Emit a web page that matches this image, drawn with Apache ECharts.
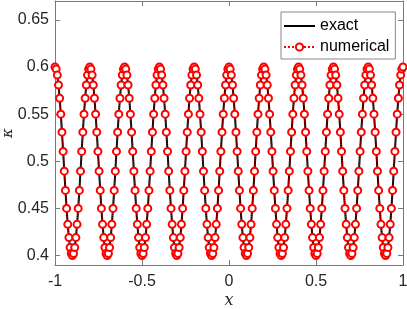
<!DOCTYPE html>
<html>
<head>
<meta charset="utf-8">
<script src="https://cdn.jsdelivr.net/npm/echarts@6/dist/echarts.min.js"></script>
<style>html,body{margin:0;padding:0;background:#fff}#c{width:407px;height:309px}</style>
</head>
<body>
<div id="c"></div>
<script>
// x grid: uniform samples from -1 to 1 (301 points)
const xStart = -1, xEnd = 1, nPts = 301;
// kappa values (numerical points, which lie on the exact curve)
const kappaValues = [
0.6,0.5978,0.5914,0.5809,0.5669,0.55,0.5309,0.5105,0.4895,0.4691,0.45,0.4331,0.4191,0.4086,0.4022,0.4,0.4022,0.4086,0.4191,0.4331,0.45,0.4691,0.4895,0.5105,0.5309,0.55,0.5669,0.5809,0.5914,0.5978,
0.6,0.5978,0.5914,0.5809,0.5669,0.55,0.5309,0.5105,0.4895,0.4691,0.45,0.4331,0.4191,0.4086,0.4022,0.4,0.4022,0.4086,0.4191,0.4331,0.45,0.4691,0.4895,0.5105,0.5309,0.55,0.5669,0.5809,0.5914,0.5978,
0.6,0.5978,0.5914,0.5809,0.5669,0.55,0.5309,0.5105,0.4895,0.4691,0.45,0.4331,0.4191,0.4086,0.4022,0.4,0.4022,0.4086,0.4191,0.4331,0.45,0.4691,0.4895,0.5105,0.5309,0.55,0.5669,0.5809,0.5914,0.5978,
0.6,0.5978,0.5914,0.5809,0.5669,0.55,0.5309,0.5105,0.4895,0.4691,0.45,0.4331,0.4191,0.4086,0.4022,0.4,0.4022,0.4086,0.4191,0.4331,0.45,0.4691,0.4895,0.5105,0.5309,0.55,0.5669,0.5809,0.5914,0.5978,
0.6,0.5978,0.5914,0.5809,0.5669,0.55,0.5309,0.5105,0.4895,0.4691,0.45,0.4331,0.4191,0.4086,0.4022,0.4,0.4022,0.4086,0.4191,0.4331,0.45,0.4691,0.4895,0.5105,0.5309,0.55,0.5669,0.5809,0.5914,0.5978,
0.6,0.5978,0.5914,0.5809,0.5669,0.55,0.5309,0.5105,0.4895,0.4691,0.45,0.4331,0.4191,0.4086,0.4022,0.4,0.4022,0.4086,0.4191,0.4331,0.45,0.4691,0.4895,0.5105,0.5309,0.55,0.5669,0.5809,0.5914,0.5978,
0.6,0.5978,0.5914,0.5809,0.5669,0.55,0.5309,0.5105,0.4895,0.4691,0.45,0.4331,0.4191,0.4086,0.4022,0.4,0.4022,0.4086,0.4191,0.4331,0.45,0.4691,0.4895,0.5105,0.5309,0.55,0.5669,0.5809,0.5914,0.5978,
0.6,0.5978,0.5914,0.5809,0.5669,0.55,0.5309,0.5105,0.4895,0.4691,0.45,0.4331,0.4191,0.4086,0.4022,0.4,0.4022,0.4086,0.4191,0.4331,0.45,0.4691,0.4895,0.5105,0.5309,0.55,0.5669,0.5809,0.5914,0.5978,
0.6,0.5978,0.5914,0.5809,0.5669,0.55,0.5309,0.5105,0.4895,0.4691,0.45,0.4331,0.4191,0.4086,0.4022,0.4,0.4022,0.4086,0.4191,0.4331,0.45,0.4691,0.4895,0.5105,0.5309,0.55,0.5669,0.5809,0.5914,0.5978,
0.6,0.5978,0.5914,0.5809,0.5669,0.55,0.5309,0.5105,0.4895,0.4691,0.45,0.4331,0.4191,0.4086,0.4022,0.4,0.4022,0.4086,0.4191,0.4331,0.45,0.4691,0.4895,0.5105,0.5309,0.55,0.5669,0.5809,0.5914,0.5978,
0.6
];
const xTicks = [-1, -0.5, 0, 0.5, 1];
const yTicks = [0.4, 0.45, 0.5, 0.55, 0.6, 0.65];
const seriesNames = ['exact', 'numerical'];

const xs = [];
for (let i = 0; i < nPts; i++) xs.push(+(xStart + (xEnd - xStart) * i / (nPts - 1)).toFixed(6));
const pts = xs.map((x, i) => [x, kappaValues[i]]);

const axisCol = '#7a7a7a';
const txtCol = '#262626';
const font = 'Liberation Sans, Arial, Helvetica, sans-serif';

const chart = echarts.init(document.getElementById('c'), null, {renderer: 'canvas'});
chart.setOption({
  animation: false,
  backgroundColor: '#fff',
  grid: {left: 55, right: 4, top: 1, bottom: 44, containLabel: false, outerBoundsMode: 'none'},
  xAxis: [{
    type: 'value', min: -1, max: 1, interval: 0.5,
    position: 'bottom',
    axisLine: {show: true, onZero: false, lineStyle: {color: axisCol, width: 1}},
    axisTick: {show: true, inside: true, length: 5, lineStyle: {color: axisCol}},
    splitLine: {show: false},
    axisLabel: {color: txtCol, fontSize: 16, fontFamily: font, margin: 9,
      customValues: xTicks, formatter: v => String(v)},
    name: 'x', nameLocation: 'middle', nameGap: 28, nameMoveOverlap: false,
    nameTextStyle: {fontFamily: 'DejaVu Serif, Liberation Serif, serif', fontStyle: 'italic', fontSize: 16, color: txtCol}
  }, {
    type: 'value', min: -1, max: 1, interval: 0.5, position: 'top',
    axisLine: {show: true, onZero: false, lineStyle: {color: axisCol, width: 1}},
    axisTick: {show: true, inside: true, length: 5, lineStyle: {color: axisCol}},
    splitLine: {show: false}, axisLabel: {show: false}
  }],
  yAxis: [{
    type: 'value', min: 0.39, max: 0.67,
    axisLine: {show: true, onZero: false, lineStyle: {color: axisCol, width: 1}},
    axisTick: {show: true, inside: true, length: 5, lineStyle: {color: axisCol}, customValues: yTicks},
    splitLine: {show: false},
    axisLabel: {color: txtCol, fontSize: 16, fontFamily: font, margin: 6,
      customValues: yTicks, formatter: v => String(+v.toFixed(2))},
    name: 'κ', nameLocation: 'middle', nameGap: 39, nameRotate: 90, nameMoveOverlap: false,
    nameTextStyle: {fontFamily: 'DejaVu Serif, Liberation Serif, serif', fontStyle: 'italic', fontSize: 15, color: txtCol}
  }, {
    type: 'value', min: 0.39, max: 0.67, position: 'right',
    axisLine: {show: true, onZero: false, lineStyle: {color: axisCol, width: 1}},
    axisTick: {show: true, inside: true, length: 5, lineStyle: {color: axisCol}, customValues: yTicks},
    splitLine: {show: false}, axisLabel: {show: false}
  }],
  legend: {
    orient: 'vertical', left: 281, top: 12,
    padding: [6, 6, 4, 2], itemGap: 5, itemWidth: 31, itemHeight: 9,
    borderColor: '#888', borderWidth: 1, backgroundColor: '#fff',
    textStyle: {fontSize: 16, fontFamily: font, color: '#000', lineHeight: 14},
    data: [
      {name: seriesNames[0], itemStyle: {opacity: 0}},
      {name: seriesNames[1]}
    ]
  },
  series: [{
    name: seriesNames[0], type: 'line', data: pts, smooth: 0.4,
    showSymbol: false, symbol: 'none',
    lineStyle: {color: '#000', width: 2}, itemStyle: {color: '#000'}, z: 2
  }, {
    name: seriesNames[1], type: 'line', data: pts,
    symbol: 'emptyCircle', symbolSize: 7, showSymbol: true,
    lineStyle: {color: '#ff0000', width: 1, type: 'dotted'},
    itemStyle: {color: '#ff0000', borderColor: '#ff0000', borderWidth: 1},
    z: 3
  }]
});
</script>
</body>
</html>
